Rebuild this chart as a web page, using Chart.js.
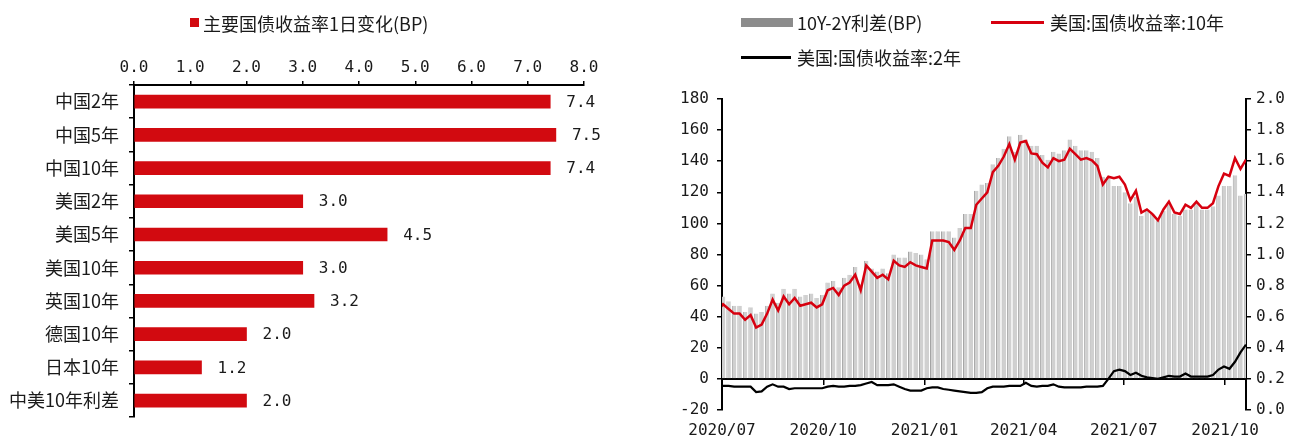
<!DOCTYPE html>
<html>
<head>
<meta charset="utf-8">
<script src="https://cdn.jsdelivr.net/npm/chart.js@4.4.1/dist/chart.umd.min.js"></script>
<style>
  body { margin: 0; background: #fff; width: 1290px; height: 438px; overflow: hidden; position: relative; font-family: "Noto Sans CJK SC", sans-serif; color: #1a1a1a; }
  canvas { position: absolute; top: 0; }
  #leftChart { left: 0; }
  #rightChart { left: 650px; }
  .lg { position: absolute; font-size: 18px; line-height: 18px; white-space: nowrap; }
  .mk { position: absolute; }
</style>
</head>
<body>
<canvas id="leftChart" width="640" height="438"></canvas>
<canvas id="rightChart" width="640" height="438"></canvas>

<!-- legends -->
<div class="mk" style="left:190px;top:18px;width:9px;height:9px;background:#d20a10"></div>
<div class="lg" style="left:203px;top:14px">主要国债收益率1日变化(BP)</div>

<div class="mk" style="left:741px;top:18px;width:52px;height:9px;background:#8c8c8c"></div>
<div class="lg" style="left:797px;top:13px">10Y-2Y利差(BP)</div>
<div class="mk" style="left:991px;top:21px;width:53px;height:2.5px;background:#d7000f"></div>
<div class="lg" style="left:1050px;top:13px">美国:国债收益率:10年</div>
<div class="mk" style="left:741px;top:56px;width:50px;height:2.5px;background:#000"></div>
<div class="lg" style="left:797px;top:48px">美国:国债收益率:2年</div>

<script>
// left panel: one-day change of main government bond yields (BP)
const bondNames = ["中国2年", "中国5年", "中国10年", "美国2年", "美国5年", "美国10年", "英国10年", "德国10年", "日本10年", "中美10年利差"];
const dailyChange = [7.4, 7.5, 7.4, 3.0, 4.5, 3.0, 3.2, 2.0, 1.2, 2.0];

// right panel: samples every 5 calendar days starting 2020-06-27
const startDate = "2020-06-27";
const sampleStep = 5;
const spread = [48, 53, 50, 47, 47, 43, 46, 42, 43, 47,
  55, 49, 58, 55, 58, 53, 54, 55, 52, 54,
  62, 63, 59, 65, 67, 72, 61, 76, 71, 69,
  71, 68, 80, 78, 78, 82, 81, 80, 77, 95,
  95, 95, 95, 91, 97, 106, 106, 121, 125, 126,
  138, 142, 148, 156, 146, 157, 154, 150, 150, 144,
  141, 146, 145, 147, 154, 150, 147, 147, 146, 142,
  130, 130, 124, 124, 120, 113, 117, 105, 108, 106,
  102, 108, 112, 106, 105, 109, 109, 113, 109, 109,
  111, 118, 124, 124, 131, 118, 119];
const us10y = [0.64, 0.68, 0.65, 0.62, 0.62, 0.58, 0.61, 0.53, 0.55, 0.62,
  0.71, 0.64, 0.73, 0.68, 0.72, 0.67, 0.68, 0.69, 0.66, 0.68,
  0.77, 0.785, 0.74, 0.80, 0.82, 0.87, 0.77, 0.93, 0.89, 0.85,
  0.87, 0.84, 0.96, 0.93, 0.92, 0.95, 0.93, 0.92, 0.91, 1.09,
  1.09, 1.09, 1.08, 1.03, 1.09, 1.17, 1.17, 1.32, 1.36, 1.40,
  1.53, 1.57, 1.63, 1.71, 1.61, 1.72, 1.73, 1.65, 1.645, 1.59,
  1.56, 1.62, 1.60, 1.61, 1.68, 1.645, 1.61, 1.62, 1.605, 1.57,
  1.45, 1.50, 1.49, 1.50, 1.45, 1.35, 1.41, 1.27, 1.29, 1.26,
  1.22, 1.29, 1.34, 1.27, 1.26, 1.32, 1.30, 1.34, 1.30, 1.30,
  1.33, 1.44, 1.52, 1.505, 1.62, 1.55, 1.61];
const us2y = [0.16, 0.155, 0.155, 0.15, 0.15, 0.15, 0.15, 0.115, 0.12, 0.15,
  0.165, 0.15, 0.15, 0.135, 0.14, 0.14, 0.14, 0.14, 0.14, 0.14,
  0.15, 0.155, 0.15, 0.15, 0.155, 0.155, 0.16, 0.17, 0.18, 0.16,
  0.16, 0.16, 0.165, 0.15, 0.135, 0.125, 0.125, 0.125, 0.14, 0.145,
  0.145, 0.135, 0.13, 0.125, 0.12, 0.115, 0.11, 0.11, 0.115, 0.14,
  0.15, 0.15, 0.15, 0.155, 0.155, 0.155, 0.175, 0.155, 0.15, 0.155,
  0.155, 0.165, 0.15, 0.145, 0.145, 0.145, 0.145, 0.15, 0.15, 0.15,
  0.155, 0.20, 0.25, 0.26, 0.25, 0.225, 0.24, 0.22, 0.21, 0.205,
  0.20, 0.21, 0.22, 0.215, 0.215, 0.235, 0.215, 0.215, 0.215, 0.215,
  0.225, 0.26, 0.28, 0.265, 0.31, 0.37, 0.42];
const tickDates = ["2020-07-01", "2020-10-01", "2021-01-01", "2021-04-01", "2021-07-01", "2021-10-01"];
const tickLabels = ["2020/07", "2020/10", "2021/01", "2021/04", "2021/07", "2021/10"];
const endDate = "2021-10-20";

const DAY = 86400000;
const origin = Date.parse("2020-07-01");
const dayOf = (s) => Math.round((Date.parse(s) - origin) / DAY);
const firstDay = dayOf(startDate);
const sampleDays = spread.map((_, i) => firstDay + i * sampleStep);
const tickDays = tickDates.map(dayOf);
const lastDay = dayOf(endDate);

const txt = "#1a1a1a";
const mono = { family: "DejaVu Sans Mono", size: 16 };
const cjk = { family: "Noto Sans CJK SC", size: 18 };

const valueLabels = {
  id: "valueLabels",
  afterDatasetsDraw(chart) {
    const ctx = chart.ctx;
    ctx.save();
    ctx.font = '16px "DejaVu Sans Mono"';
    ctx.fillStyle = txt;
    ctx.textAlign = "left";
    ctx.textBaseline = "middle";
    chart.getDatasetMeta(0).data.forEach((bar, i) => {
      ctx.fillText(dailyChange[i].toFixed(1), bar.x + 16, bar.y + 1);
    });
    ctx.restore();
  },
};

new Chart(document.getElementById("leftChart"), {
  type: "bar",
  data: {
    labels: bondNames,
    datasets: [{
      label: "主要国债收益率1日变化(BP)",
      data: dailyChange,
      backgroundColor: "#d20a10",
      barThickness: 13,
    }],
  },
  options: {
    indexAxis: "y",
    responsive: false,
    animation: false,
    layout: { padding: { top: 40, right: 56, bottom: 10, left: 0 } },
    plugins: { legend: { display: false }, tooltip: { enabled: false } },
    scales: {
      x: {
        position: "top",
        min: 0,
        max: 8,
        ticks: { stepSize: 1, callback: (v) => v.toFixed(1), font: mono, color: txt, padding: 4 },
        grid: { drawOnChartArea: false, tickLength: 4, color: "#000", lineWidth: 1.5 },
        border: { color: "#000", width: 2 },
        afterFit: (s) => { s.height = 45; },
      },
      y: {
        ticks: { font: cjk, color: txt, padding: 10 },
        grid: { offset: true, drawOnChartArea: false, tickLength: 5, color: "#000", lineWidth: 1.5 },
        border: { color: "#000", width: 2 },
        afterFit: (s) => { s.width = 134; },
      },
    },
  },
  plugins: [valueLabels],
});

const setQuarterTicks = (s) => { s.ticks = tickDays.map((v) => ({ value: v })); };

new Chart(document.getElementById("rightChart"), {
  data: {
    datasets: [
      {
        type: "line",
        label: "美国:国债收益率:10年",
        data: us10y.map((v, i) => ({ x: sampleDays[i], y: v })),
        xAxisID: "x",
        yAxisID: "y1",
        borderColor: "#d7000f",
        borderWidth: 2.5,
        pointRadius: 0,
        order: 0,
      },
      {
        type: "line",
        label: "美国:国债收益率:2年",
        data: us2y.map((v, i) => ({ x: sampleDays[i], y: v })),
        xAxisID: "x",
        yAxisID: "y1",
        borderColor: "#000",
        borderWidth: 2.2,
        pointRadius: 0,
        order: 1,
      },
      {
        type: "bar",
        label: "10Y-2Y利差(BP)",
        data: spread.map((v, i) => ({ x: sampleDays[i], y: v })),
        xAxisID: "x",
        yAxisID: "y",
        backgroundColor: "#d0d0d0",
        borderColor: "#a4a4a4",
        borderWidth: { left: 1, right: 0, top: 0, bottom: 0 },
        borderSkipped: false,
        barPercentage: 0.82,
        categoryPercentage: 1,
        order: 2,
      },
    ],
  },
  options: {
    responsive: false,
    animation: false,
    layout: { padding: { top: 99, right: 0, bottom: 0, left: 0 } },
    plugins: { legend: { display: false }, tooltip: { enabled: false } },
    scales: {
      x: {
        type: "linear",
        position: "bottom",
        min: 0,
        max: lastDay,
        offset: false,
        afterBuildTicks: setQuarterTicks,
        ticks: {
          autoSkip: false,
          maxRotation: 0,
          font: mono,
          color: txt,
          padding: 11,
          callback: (v) => tickLabels[tickDays.indexOf(v)],
        },
        grid: { display: false, drawTicks: false },
        border: { display: false },
        afterFit: (s) => { s.height = 28; },
      },
      xZero: {
        type: "linear",
        axis: "x",
        position: { y: 0 },
        min: 0,
        max: lastDay,
        offset: false,
        afterBuildTicks: setQuarterTicks,
        ticks: { display: false },
        grid: { drawOnChartArea: false, tickLength: 5, color: "#000", lineWidth: 1.5 },
        border: { color: "#000", width: 2 },
      },
      y: {
        position: "left",
        min: -20,
        max: 180,
        ticks: { stepSize: 20, font: mono, color: txt, padding: 8 },
        grid: { drawOnChartArea: false, tickLength: 5, color: "#000", lineWidth: 1.5 },
        border: { color: "#000", width: 2 },
        afterFit: (s) => { s.width = 72; },
      },
      y1: {
        position: "right",
        min: 0,
        max: 2,
        ticks: { stepSize: 0.2, font: mono, color: txt, padding: 5, callback: (v) => v.toFixed(1) },
        grid: { drawOnChartArea: false, tickLength: 5, color: "#000", lineWidth: 1.5 },
        border: { color: "#000", width: 2 },
        afterFit: (s) => { s.width = 44; },
      },
    },
  },
});
</script>
</body>
</html>
